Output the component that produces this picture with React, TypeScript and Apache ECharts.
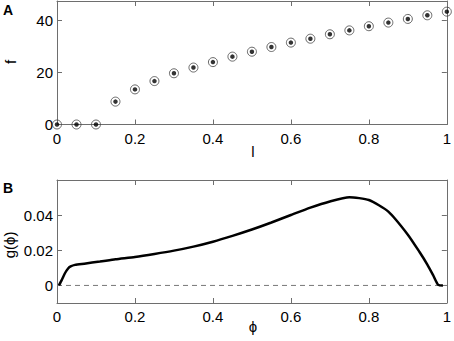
import React, { useEffect, useRef } from "react";
import * as echarts from "echarts";

const lValues = [0, 0.05, 0.1, 0.15, 0.2, 0.25, 0.3, 0.35, 0.4, 0.45, 0.5, 0.55, 0.6, 0.65, 0.7, 0.75, 0.8, 0.85, 0.9, 0.95, 1.0];
const fValues = [0, 0, 0, 8.8, 13.5, 16.7, 19.7, 21.9, 24.0, 26.1, 28.0, 29.8, 31.5, 33.0, 34.7, 36.2, 37.8, 39.2, 40.6, 42.0, 43.4];

const phiValues = [0.005, 0.012, 0.02, 0.028, 0.035, 0.046, 0.07, 0.11, 0.15, 0.2, 0.25, 0.3, 0.35, 0.4, 0.45, 0.5, 0.55, 0.6, 0.65, 0.7, 0.75, 0.8, 0.85, 0.9, 0.93, 0.95, 0.965, 0.978, 0.99];
const gValues = [0, 0.003, 0.0068, 0.0095, 0.0108, 0.0117, 0.0124, 0.0136, 0.0149, 0.0162, 0.0179, 0.0198, 0.0221, 0.0249, 0.0282, 0.0318, 0.0358, 0.0401, 0.0443, 0.0478, 0.0502, 0.0486, 0.042, 0.0289, 0.019, 0.0119, 0.0058, 0.0003, 0];

const xTicks = [0, 0.2, 0.4, 0.6, 0.8, 1];
const fTicks = [0, 20, 40];
const gTicks = [0, 0.02, 0.04];

const FONT = "Liberation Sans, Arial, Helvetica, sans-serif";
const AXIS_COLOR = "#6e6e6e";

function makeAxis(kind: "x" | "y", gridIndex: number, position: string, min: number, max: number, ticks: number[], showLabels: boolean) {
  return {
    type: "value",
    gridIndex,
    position,
    min,
    max,
    axisLine: { show: true, onZero: false, lineStyle: { color: AXIS_COLOR, width: 1 } },
    axisTick: { show: true, inside: true, length: 5, customValues: ticks, lineStyle: { color: AXIS_COLOR, width: 1 } },
    axisLabel: {
      show: showLabels,
      customValues: ticks,
      color: "#000",
      fontSize: 15,
      fontFamily: FONT,
      margin: kind === "x" ? 6 : 4,
      formatter: (v: number) => String(Number(v.toFixed(4))),
    },
    splitLine: { show: false },
  };
}

export default function App() {
  const ref = useRef<HTMLDivElement>(null);
  useEffect(() => {
    const chart = echarts.init(ref.current!, null, { renderer: "svg" });
    const scatterData = lValues.map((l, i) => [l, fValues[i]]);
    const curveData = phiValues.map((p, i) => [p, gValues[i]]);
    chart.setOption({
      animation: false,
      backgroundColor: "#fff",
      grid: [
        { left: 57, right: 5, top: 1, height: 123.5 },
        { left: 57, right: 5, top: 180, height: 123 },
      ],
      xAxis: [
        makeAxis("x", 0, "bottom", 0, 1, xTicks, true),
        makeAxis("x", 0, "top", 0, 1, xTicks, false),
        makeAxis("x", 1, "bottom", 0, 1, xTicks, true),
        makeAxis("x", 1, "top", 0, 1, xTicks, false),
      ],
      yAxis: [
        makeAxis("y", 0, "left", 0, 47.5, fTicks, true),
        makeAxis("y", 0, "right", 0, 47.5, fTicks, false),
        makeAxis("y", 1, "left", -0.01, 0.06, gTicks, true),
        makeAxis("y", 1, "right", -0.01, 0.06, gTicks, false),
      ],
      series: [
        {
          type: "scatter",
          xAxisIndex: 0,
          yAxisIndex: 0,
          data: scatterData,
          symbol: "circle",
          symbolSize: 9,
          clip: false,
          itemStyle: { color: "rgba(0,0,0,0)", borderColor: "#444", borderWidth: 1 },
          z: 3,
        },
        {
          type: "scatter",
          xAxisIndex: 0,
          yAxisIndex: 0,
          data: scatterData,
          symbol: "circle",
          symbolSize: 4.5,
          clip: false,
          itemStyle: { color: "#000" },
          z: 4,
        },
        {
          type: "line",
          xAxisIndex: 2,
          yAxisIndex: 2,
          data: [[0, 0], [1, 0]],
          symbol: "none",
          lineStyle: { color: "#777", width: 1, type: [5, 4] },
          z: 2,
        },
        {
          type: "line",
          xAxisIndex: 2,
          yAxisIndex: 2,
          data: curveData,
          symbol: "none",
          smooth: 0.2,
          lineStyle: { color: "#000", width: 2.5 },
          z: 3,
        },
      ],
      graphic: [
        { type: "text", left: 3, top: 3, style: { text: "A", font: `bold 14px ${FONT}`, fill: "#000" } },
        { type: "text", left: 3, top: 181, style: { text: "B", font: `bold 14px ${FONT}`, fill: "#000" } },
        { type: "text", x: 10, y: 62, rotation: Math.PI / 2, style: { text: "f", font: `15px ${FONT}`, fill: "#000", align: "center", verticalAlign: "middle" } },
        { type: "text", x: 9, y: 245, rotation: Math.PI / 2, style: { text: "g(ϕ)", font: `15px ${FONT}`, fill: "#000", align: "center", verticalAlign: "middle" } },
        { type: "text", x: 253, y: 151, style: { text: "l", font: `15px ${FONT}`, fill: "#000", align: "center", verticalAlign: "middle" } },
        { type: "text", x: 253, y: 326, style: { text: "ϕ", font: `15px ${FONT}`, fill: "#000", align: "center", verticalAlign: "middle" } },
      ],
    });
    return () => chart.dispose();
  }, []);
  return <div ref={ref} style={{ position: "fixed", left: 0, top: 0, width: 454, height: 341 }} />;
}
